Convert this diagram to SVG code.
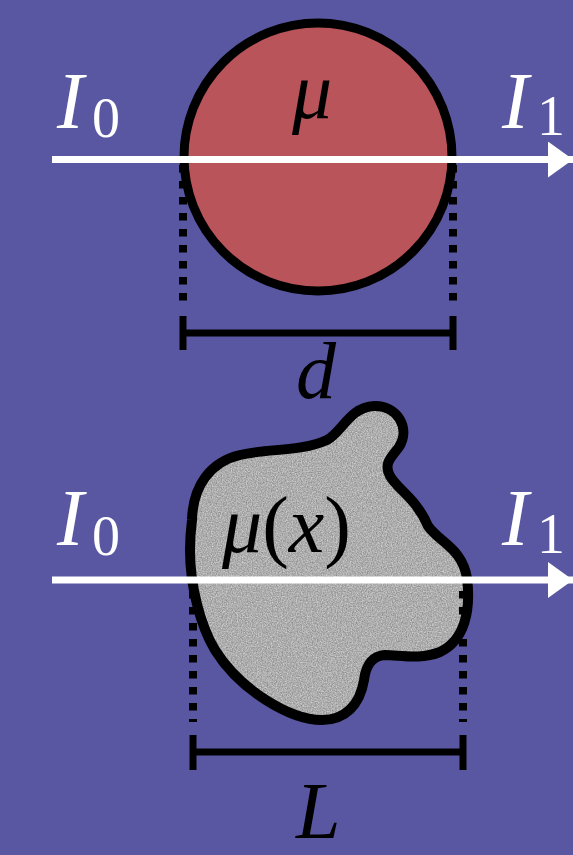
<svg xmlns="http://www.w3.org/2000/svg" width="573" height="855" viewBox="0 0 573 855">
<style>
.lbl{font-family:"Liberation Serif","DejaVu Serif",serif;font-size:80px;fill:#fff}
.math{font-family:"Liberation Serif","DejaVu Serif",serif;font-size:80px;fill:#000}
.it{font-style:italic}
.ray{stroke:#fff;stroke-width:7;fill:none}
.dot{stroke:#000;stroke-width:8;fill:none;stroke-dasharray:7.5 8.5}
.bar{stroke:#000;stroke-width:7;fill:none}
</style>
<defs>
<marker id="head" markerUnits="userSpaceOnUse" markerWidth="30" markerHeight="40" refX="25" refY="18" orient="auto">
<path d="M0,0 L25,18 L0,36 Z" fill="#fff"/>
</marker>
<filter id="grain" x="0" y="0" width="1" height="1" color-interpolation-filters="sRGB">
<feTurbulence type="fractalNoise" baseFrequency="0.8" numOctaves="2" seed="3" result="n"/>
<feColorMatrix in="n" type="matrix" values="0.4 0 0 0 0.48  0.4 0 0 0 0.48  0.4 0 0 0 0.48  0 0 0 0 1" result="g"/>
<feComposite in="g" in2="SourceGraphic" operator="in"/>
</filter>
</defs>
<rect width="573" height="855" fill="#5957a2"/>

<g id="sphere">
<circle cx="318" cy="157" r="134" fill="#b9545b" stroke="#000" stroke-width="9"/>
<text class="math it" x="292" y="118">μ</text>
</g>

<g id="blob">
<path d="M192,520 C193,486 210,462 240,455 C270,448 300,452 327,440 C342,432 350,407 374,406 C397,405 411,428 399,447 C392,457 383,463 390,476 C398,490 416,498 428,526 C440,543 462,548 467,578 C471,610 465,640 440,652 C420,660 400,655 385,655 C372,656 366,665 364,680 C360,705 345,720 322,720 C290,720 240,690 215,650 C200,625 190,585 190,550 C190,538 191,528 192,520 Z" fill="#adadad" filter="url(#grain)"/>
<path d="M192,520 C193,486 210,462 240,455 C270,448 300,452 327,440 C342,432 350,407 374,406 C397,405 411,428 399,447 C392,457 383,463 390,476 C398,490 416,498 428,526 C440,543 462,548 467,578 C471,610 465,640 440,652 C420,660 400,655 385,655 C372,656 366,665 364,680 C360,705 345,720 322,720 C290,720 240,690 215,650 C200,625 190,585 190,550 C190,538 191,528 192,520 Z" fill="none" stroke="#000" stroke-width="10"/>
<text class="math" x="222" y="552" font-size="84"><tspan class="it">μ</tspan>(<tspan class="it">x</tspan>)</text>
</g>

<g id="labels">
<text class="lbl" x="57" y="128"><tspan class="it">I</tspan><tspan x="92" y="137" font-size="56">0</tspan></text>
<text class="lbl" x="502" y="128"><tspan class="it">I</tspan><tspan x="537" y="135" font-size="56">1</tspan></text>
<text class="lbl" x="57" y="545"><tspan class="it">I</tspan><tspan x="92" y="555" font-size="56">0</tspan></text>
<text class="lbl" x="502" y="545"><tspan class="it">I</tspan><tspan x="537" y="553" font-size="56">1</tspan></text>
<text class="math it" x="296" y="398">d</text>
<text class="math it" x="296" y="838" font-size="74">L</text>
</g>

<g id="connectors">
<line class="dot" x1="183" y1="165" x2="183" y2="306"/>
<line class="dot" x1="453" y1="165" x2="453" y2="306"/>
<path class="bar" d="M183,316 V350 M183,333 H453 M453,316 V350"/>
<line class="ray" x1="52" y1="159.5" x2="573" y2="159.5" marker-end="url(#head)"/>

<line class="dot" x1="193" y1="591" x2="193" y2="722"/>
<line class="dot" x1="463" y1="591" x2="463" y2="722"/>
<path class="bar" d="M193,735 V770 M193,752 H463 M463,735 V770"/>
<line class="ray" x1="52" y1="580" x2="573" y2="580" marker-end="url(#head)"/>
</g>
</svg>
